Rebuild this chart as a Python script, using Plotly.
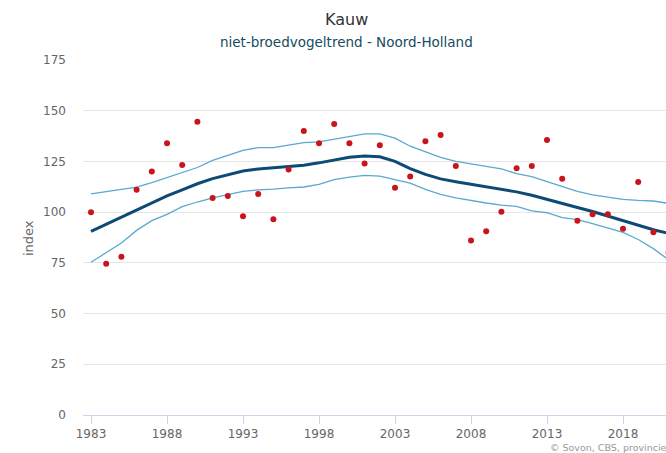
import plotly.graph_objects as go

years = list(range(1983, 2022))
index_points = [100, 74.6, 78, 111, 120, 134, 123.3, 144.5, 107, 108, 98, 109, 96.5, 121,
                140, 134, 143.5, 134, 124, 133, 112, 117.6, 135, 138, 122.7, 86, 90.6, 100.2,
                121.6, 122.7, 135.6, 116.5, 95.7, 99, 99, 91.8, 114.8, 90.1, 80]
trend = [90.5, 94, 97.5, 101, 104.5, 108, 111, 114, 116.5, 118.5, 120.3, 121.3, 122, 122.5,
         123.1, 124.3, 125.8, 127.1, 127.7, 127.3, 125, 121.5, 118.6, 116.4, 115, 113.8, 112.5,
         111.3, 110, 108.3, 106.4, 104.3, 102.3, 100.3, 98, 96, 93.5, 91.3, 89.5]
upper = [109, 110, 111, 112.3, 114.5, 117, 119.5, 122, 125.5, 128, 130.5, 131.8, 131.8, 133,
         134.3, 134.6, 136, 137.3, 138.6, 138.6, 136.5, 132.5, 129.7, 127, 125, 123.8, 122.6,
         121.3, 119, 117.5, 115, 112.5, 110.2, 108.5, 107.5, 106.3, 105.8, 105.5, 104.3]
lower = [75.3, 80, 84.8, 91, 95.8, 98.9, 102.7, 105, 107, 108.6, 110.2, 111, 111.3, 112,
         112.4, 113.7, 116, 117.3, 118.1, 117.8, 116, 114.3, 111.2, 108.7, 107, 105.6, 104.5,
         103.5, 102.8, 100.6, 99.7, 97.3, 96.3, 94.3, 92.3, 90, 86.5, 82, 76.5]
x_ticks = [1983, 1988, 1993, 1998, 2003, 2008, 2013, 2018]
y_ticks = [0, 25, 50, 75, 100, 125, 150, 175]

FONT = "DejaVu Sans"
W, H = 666, 453
# plot area in window pixels: left 83, top 60, bottom 415
L, T, B, R = 83, 60, 453 - 415, 0
pw = W - L - R
ph = H - T - B


def px(xw):
    return (xw - L) / pw


def py(yw):
    return (415 - yw) / ph


x0 = 1983 - 8 / 15.2
x1 = 1983 + (pw - 8) / 15.2

fig = go.Figure()
fig.add_trace(go.Scatter(x=years, y=upper, mode="lines",
                         line=dict(color="#5aa9cf", width=1.3), hoverinfo="skip"))
fig.add_trace(go.Scatter(x=years, y=lower, mode="lines",
                         line=dict(color="#5aa9cf", width=1.3), hoverinfo="skip"))
fig.add_trace(go.Scatter(x=years, y=trend, mode="lines",
                         line=dict(color="#0d4a75", width=3)))
fig.add_trace(go.Scatter(x=years, y=index_points, mode="markers",
                         marker=dict(color="#c8151b", size=6)))

fig.update_layout(
    width=W, height=H,
    margin=dict(l=L, r=R, t=T, b=B, pad=0),
    paper_bgcolor="white", plot_bgcolor="white",
    showlegend=False,
    font=dict(family=FONT, color="#666666", size=12),
    xaxis=dict(range=[x0, x1], tickvals=x_ticks, ticktext=[str(v) for v in x_ticks],
               showgrid=False, zeroline=False, showline=True, linecolor="#ccd6eb",
               linewidth=1, ticks="outside", ticklen=8, tickcolor="#ccd6eb", tickwidth=1,
               tickfont=dict(family=FONT, size=12, color="#666666")),
    yaxis=dict(range=[0, 175], tickvals=y_ticks, showgrid=True, gridcolor="#e6e6e6",
               gridwidth=1, zeroline=False, showline=False, ticks="",
               ticklabelstandoff=16,
               tickfont=dict(family=FONT, size=12, color="#666666")),
    annotations=[
        dict(text="Kauw", xref="paper", yref="paper",
             x=px(346), y=py(20), xanchor="center", yanchor="middle",
             showarrow=False, font=dict(family=FONT, size=16, color="#333333")),
        dict(text="niet-broedvogeltrend - Noord-Holland", xref="paper", yref="paper",
             x=px(346), y=py(42), xanchor="center", yanchor="middle",
             showarrow=False, font=dict(family=FONT, size=13.5, color="#174c60")),
        dict(text="index", xref="paper", yref="paper", textangle=-90,
             x=px(28), y=py(238), xanchor="center", yanchor="middle",
             showarrow=False, font=dict(family=FONT, size=13, color="#666666")),
        dict(text="© Sovon, CBS, provincie Noord-Holland", xref="paper", yref="paper",
             x=px(548), y=py(447), xanchor="left", yanchor="middle",
             showarrow=False, font=dict(family=FONT, size=9.5, color="#999999")),
    ],
)

fig.write_html(
    "out.html",
    config={"displayModeBar": False},
    post_script="document.body.style.margin='0';document.body.style.overflow='hidden';",
)
